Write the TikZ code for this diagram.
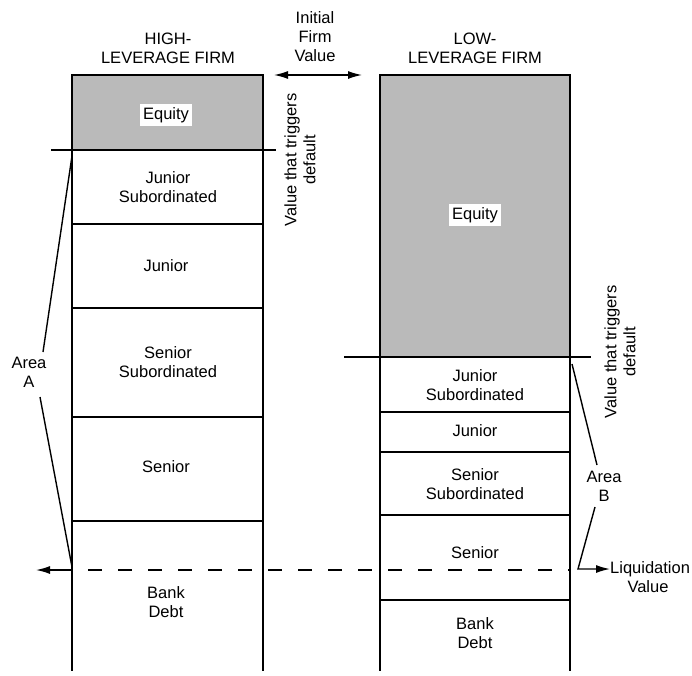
\documentclass[tikz,border=0pt]{standalone}
\usepackage{fontspec}
\setmainfont{Liberation Sans}
\usetikzlibrary{arrows.meta}
\begin{document}
\begin{tikzpicture}[x=1pt,y=-1pt,
  colline/.style={line width=1.6pt, line cap=rect},
  sepline/.style={line width=1.3pt},
  eqfill/.style={fill=black!27},
  lbl/.style={font=\fontsize{16.5}{19}\selectfont, align=center, inner sep=1pt},
  wlbl/.style={lbl, fill=white, inner sep=3pt},
  conn/.style={line width=1.4pt},
  tip/.style={-{Latex[length=14pt,width=8pt]}},
  dtip/.style={{Latex[length=14pt,width=8pt]}-{Latex[length=14pt,width=8pt]}}
]
\useasboundingbox (0,0) rectangle (692,675);

% ---------- headers ----------
\node[lbl] (hh) at (168,48) {HIGH-\\LEVERAGE FIRM};
\node[lbl] (lh) at (475,48) {LOW-\\LEVERAGE FIRM};
\node[lbl] (ifv) at (315,37) {Initial\\Firm\\Value};
\coordinate (ifvL) at (274,75);
\coordinate (ifvR) at (362,75);
\draw[conn,dtip] (ifvL) -- (ifvR);

% ---------- left column ----------
\fill[eqfill] (72,75) rectangle (263,150);
\draw[colline] (72,670) -- (72,75) -- (263,75) -- (263,670);
\coordinate (ldefL) at (52,150);
\coordinate (ldefR) at (275,150);
\draw[colline] (ldefL) -- (ldefR);
\draw[sepline] (72,224) -- (263,224);
\draw[sepline] (72,308) -- (263,308);
\draw[sepline] (72,417) -- (263,417);
\draw[sepline] (72,521) -- (263,521);

\node[wlbl] (leq) at (166,115) {Equity};
\node[lbl] (ljs) at (168,187) {Junior\\Subordinated};
\node[lbl] (lj) at (166,266) {Junior};
\node[lbl] (lss) at (168,362) {Senior\\Subordinated};
\node[lbl] (ls) at (166,467) {Senior};
\node[lbl] (lbd) at (166,602) {Bank\\Debt};

\node[lbl, rotate=90] (ldef) at (300,160) {Value that triggers\\default};

% ---------- right column ----------
\fill[eqfill] (380,75) rectangle (570,357);
\draw[colline] (380,670) -- (380,75) -- (570,75) -- (570,670);
\coordinate (rdefL) at (345,357);
\coordinate (rdefR) at (590,357);
\draw[colline] (rdefL) -- (rdefR);
\draw[sepline] (380,412) -- (570,412);
\draw[sepline] (380,452) -- (570,452);
\draw[sepline] (380,515) -- (570,515);
\draw[sepline] (380,600) -- (570,600);

\node[wlbl] (req) at (475,215) {Equity};
\node[lbl] (rjs) at (475,385) {Junior\\Subordinated};
\node[lbl] (rj) at (475,431) {Junior};
\node[lbl] (rss) at (475,484) {Senior\\Subordinated};
\node[lbl] (rs) at (475,553) {Senior};
\node[lbl] (rbd) at (475,633) {Bank\\Debt};

\node[lbl, rotate=90] (rdef) at (620,352) {Value that triggers\\default};

% ---------- liquidation line ----------
\coordinate (liqL) at (72,570);
\coordinate (liqR) at (570,570);
\coordinate (liqTip) at (36,570);
\draw[conn, dash pattern=on 14pt off 16pt, dash phase=-16pt] (liqL) -- (liqR);
\draw[conn,tip] (liqL) -- (liqTip);

% ---------- Area A ----------
\node[lbl] (areaA) at (29,372) {Area\\A};
\coordinate (aTop) at (72,156);
\coordinate (aU) at (43,352);
\coordinate (aD) at (40,397);
\coordinate (aBot) at (72,567);
\draw[conn] (aTop) -- (aU);
\draw[conn] (aD) -- (aBot);

% ---------- Area B ----------
\node[lbl] (areaB) at (604,486) {Area\\B};
\coordinate (bTop) at (572,364);
\coordinate (bU) at (597,465);
\coordinate (bD) at (595,507);
\coordinate (bBot) at (578,569);
\coordinate (bTip) at (610,569);
\draw[conn] (bTop) -- (bU);
\draw[conn,tip] (bD) -- (bBot) -- (bTip);
\node[lbl, anchor=west, inner sep=0pt] (liqv1) at (bTip) {Liquidation};
\node[lbl] (liqv2) at (648,587) {Value};
\end{tikzpicture}
\end{document}
